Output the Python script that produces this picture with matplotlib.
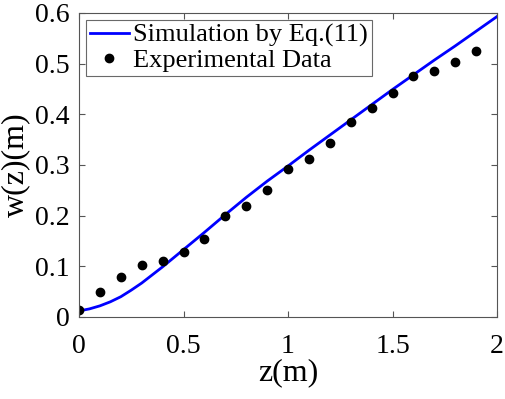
import matplotlib
matplotlib.use('Agg')
import matplotlib.pyplot as plt
import numpy as np

plt.rcParams['font.family'] = ['Liberation Serif', 'DejaVu Serif']

# simulation curve
z_sim = [0.0, 0.05, 0.1, 0.15, 0.2, 0.25, 0.3, 0.35, 0.4, 0.5, 0.6, 0.7, 0.8, 0.9, 1.0,
         1.1, 1.2, 1.3, 1.4, 1.5, 1.6, 1.7, 1.8, 1.9, 2.0]
w_sim = [0.012, 0.016, 0.022, 0.030, 0.040, 0.053, 0.067, 0.083, 0.099, 0.133, 0.167,
         0.202, 0.236, 0.268, 0.298, 0.329, 0.359, 0.389, 0.419, 0.449, 0.478, 0.507,
         0.535, 0.564, 0.593]

# experimental points
z_exp = [0.0, 0.1, 0.2, 0.3, 0.4, 0.5, 0.6, 0.7, 0.8, 0.9,
         1.0, 1.1, 1.2, 1.3, 1.4, 1.5, 1.6, 1.7, 1.8, 1.9]
w_exp = [0.013, 0.050, 0.078, 0.103, 0.111, 0.128, 0.153, 0.199, 0.220, 0.250,
         0.292, 0.311, 0.343, 0.384, 0.413, 0.443, 0.475, 0.485, 0.504, 0.525]

xticks = [0, 0.5, 1, 1.5, 2]
yticks = [0, 0.1, 0.2, 0.3, 0.4, 0.5, 0.6]

fig = plt.figure(figsize=(5.05, 3.99), dpi=100)
ax = fig.add_axes([79/505, 82/399, 418/505, 304/399])

ax.plot(z_sim, w_sim, '-', color='#0000ff', lw=2, label='Simulation by Eq.(11)')
ax.plot(z_exp, w_exp, 'o', color='black', ms=6, label='Experimental Data')

ax.set_xlim(0, 2)
ax.set_ylim(0, 0.6)
ax.set_xticks(xticks)
ax.set_xticklabels(['0', '0.5', '1', '1.5', '2'])
ax.set_yticks(yticks)
ax.set_yticklabels(['0', '0.1', '0.2', '0.3', '0.4', '0.5', '0.6'])
ax.tick_params(direction='in', top=True, right=True, labelsize=20, length=4,
               color='#555555')
ax.tick_params(axis='x', pad=12)
ax.tick_params(axis='y', pad=7)
for s in ax.spines.values():
    s.set_color('#555555')
    s.set_linewidth(0.8)

ax.set_xlabel('z(m)', fontsize=23, labelpad=0)
ax.set_ylabel('w(z)(m)', fontsize=23, labelpad=3)

leg = ax.legend(loc='upper left', fontsize=19, frameon=True, fancybox=False,
                edgecolor='#444444', handlelength=1.5, handletextpad=0.15,
                borderpad=0.15, labelspacing=0.05, borderaxespad=0.25)
leg.get_frame().set_linewidth(0.8)

fig.savefig('out.png', dpi=100)
